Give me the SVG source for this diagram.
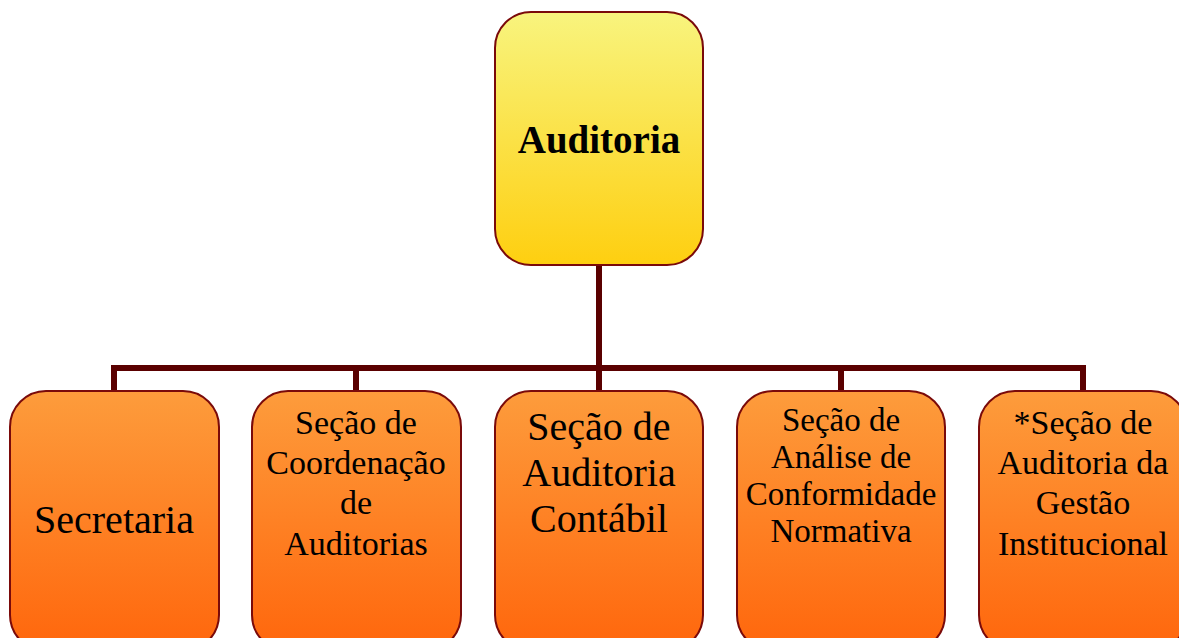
<svg xmlns="http://www.w3.org/2000/svg" width="1179" height="638" viewBox="0 0 1179 638">
<defs>
<linearGradient id="gy" x1="0" y1="0" x2="0" y2="1"><stop offset="0" stop-color="#f8f47e"/><stop offset="1" stop-color="#fecf10"/></linearGradient>
<linearGradient id="go" x1="0" y1="0" x2="0" y2="1"><stop offset="0" stop-color="#fd9c3c"/><stop offset="1" stop-color="#ff660c"/></linearGradient>
</defs>
<style>
.box{stroke:#7a0a0a;stroke-width:2}
.t{font-family:"Liberation Serif","Times New Roman",serif;fill:#000;text-anchor:middle}
.c{fill:none;stroke:#5a0000;stroke-width:6}
</style>
<rect width="1179" height="638" fill="#fff"/>
<g id="connectors">
<path class="c" d="M599 265 V368 M114 368 H1083 M114 365 V391 M356 365 V391 M599 365 V391 M841 365 V391 M1083 365 V391"/>
</g>
<g id="auditoria">
<rect class="box" x="495" y="12" width="208" height="253" rx="36" fill="url(#gy)"/>
<text class="t" x="599" y="153" font-size="39" font-weight="bold">Auditoria</text>
</g>
<g id="secretaria">
<rect class="box" x="10" y="391" width="209" height="260" rx="36" fill="url(#go)"/>
<text class="t" x="114" y="533" font-size="40">Secretaria</text>
</g>
<g id="coordenacao">
<rect class="box" x="252" y="391" width="209" height="260" rx="36" fill="url(#go)"/>
<text class="t" x="356" y="434" font-size="34">Seção de</text>
<text class="t" x="356" y="474" font-size="34">Coordenação</text>
<text class="t" x="356" y="514" font-size="34">de</text>
<text class="t" x="356" y="555" font-size="34">Auditorias</text>
</g>
<g id="contabil">
<rect class="box" x="495" y="391" width="208" height="260" rx="36" fill="url(#go)"/>
<text class="t" x="599" y="440" font-size="40">Seção de</text>
<text class="t" x="599" y="486" font-size="40">Auditoria</text>
<text class="t" x="599" y="532" font-size="40">Contábil</text>
</g>
<g id="conformidade">
<rect class="box" x="737" y="391" width="208" height="260" rx="36" fill="url(#go)"/>
<text class="t" x="841" y="431" font-size="33">Seção de</text>
<text class="t" x="841" y="468" font-size="33">Análise de</text>
<text class="t" x="841" y="505" font-size="33">Conformidade</text>
<text class="t" x="841" y="542" font-size="33">Normativa</text>
</g>
<g id="gestao">
<rect class="box" x="979" y="391" width="208" height="260" rx="36" fill="url(#go)"/>
<text class="t" x="1083" y="434" font-size="34">*Seção de</text>
<text class="t" x="1083" y="474" font-size="34">Auditoria da</text>
<text class="t" x="1083" y="514" font-size="34">Gestão</text>
<text class="t" x="1083" y="555" font-size="34">Institucional</text>
</g>
</svg>
